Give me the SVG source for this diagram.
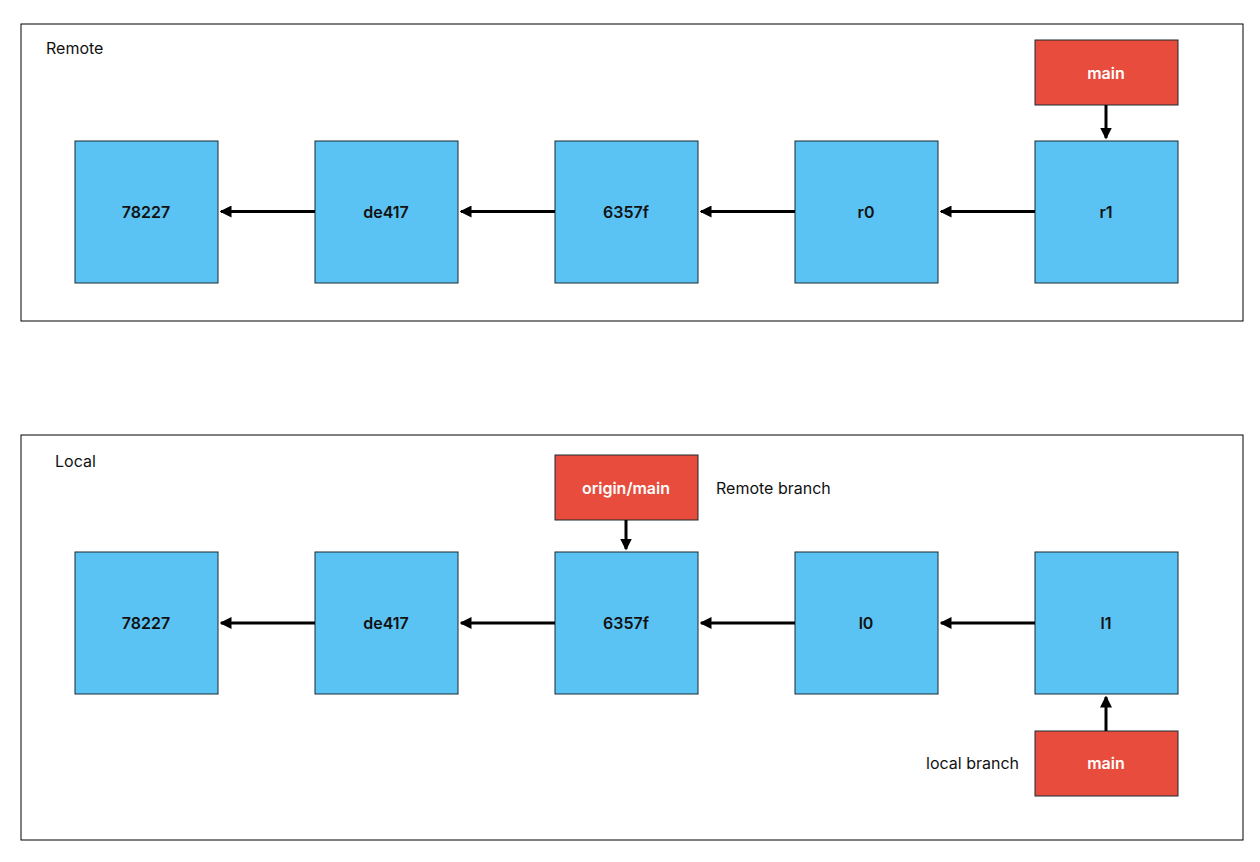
<svg xmlns="http://www.w3.org/2000/svg" width="1260" height="862" viewBox="0 0 1260 862">
<defs>
<marker id="ah" markerWidth="4" markerHeight="4" refX="3.5" refY="2" orient="auto" markerUnits="strokeWidth"><path d="M0,0 L4,2 L0,4 z" fill="#000"/></marker>
<style>
.frame{fill:#fff;stroke:#000;stroke-width:1}
.c{fill:#5bc3f3;stroke:#1a2a33;stroke-width:1}
.b{fill:#e84c3d;stroke:#1a2a33;stroke-width:1}
.t{font-family:"Inter","Liberation Sans",sans-serif;font-size:16px;font-weight:600;fill:#111;text-anchor:middle;dominant-baseline:central}
.w{fill:#fff}
.l{font-family:"Inter","Liberation Sans",sans-serif;font-size:16px;fill:#111}
.e{stroke:#000;stroke-width:3;fill:none;marker-end:url(#ah)}
</style>
</defs>
<rect width="1260" height="862" fill="#fff"/>
<rect class="frame" x="21" y="24" width="1222" height="297"/>
<rect class="frame" x="21" y="435" width="1222" height="405"/>
<text class="l" x="46" y="54">Remote</text>
<text class="l" x="55" y="467">Local</text>
<text class="l" x="716" y="494">Remote branch</text>
<text class="l" x="926" y="769">local branch</text>
<g id="r_78227"><rect class="c" x="75" y="141" width="143" height="142"/><text class="t" x="146" y="212">78227</text></g>
<g id="r_de417"><rect class="c" x="315" y="141" width="143" height="142"/><text class="t" x="386" y="212">de417</text></g>
<g id="r_6357f"><rect class="c" x="555" y="141" width="143" height="142"/><text class="t" x="626" y="212">6357f</text></g>
<g id="r_r0"><rect class="c" x="795" y="141" width="143" height="142"/><text class="t" x="866" y="212">r0</text></g>
<g id="r_r1"><rect class="c" x="1035" y="141" width="143" height="142"/><text class="t" x="1106" y="212">r1</text></g>
<g id="r_main"><rect class="b" x="1035" y="40" width="143" height="65"/><text class="t w" x="1106" y="73">main</text></g>
<g id="l_78227"><rect class="c" x="75" y="552" width="143" height="142"/><text class="t" x="146" y="623">78227</text></g>
<g id="l_de417"><rect class="c" x="315" y="552" width="143" height="142"/><text class="t" x="386" y="623">de417</text></g>
<g id="l_6357f"><rect class="c" x="555" y="552" width="143" height="142"/><text class="t" x="626" y="623">6357f</text></g>
<g id="l_l0"><rect class="c" x="795" y="552" width="143" height="142"/><text class="t" x="866" y="623">l0</text></g>
<g id="l_l1"><rect class="c" x="1035" y="552" width="143" height="142"/><text class="t" x="1106" y="623">l1</text></g>
<g id="origin_main"><rect class="b" x="555" y="455" width="143" height="65"/><text class="t w" x="626" y="488">origin/main</text></g>
<g id="l_main"><rect class="b" x="1035" y="731" width="143" height="65"/><text class="t w" x="1106" y="763">main</text></g>
<g id="connectors">
<path class="e" d="M315 211.5H221"/>
<path class="e" d="M555 211.5H461"/>
<path class="e" d="M795 211.5H701"/>
<path class="e" d="M1035 211.5H941"/>
<path class="e" d="M1106 105V138"/>
<path class="e" d="M315 623H221"/>
<path class="e" d="M555 623H461"/>
<path class="e" d="M795 623H701"/>
<path class="e" d="M1035 623H941"/>
<path class="e" d="M626 520V549"/>
<path class="e" d="M1106 731V697"/>
</g>
</svg>
